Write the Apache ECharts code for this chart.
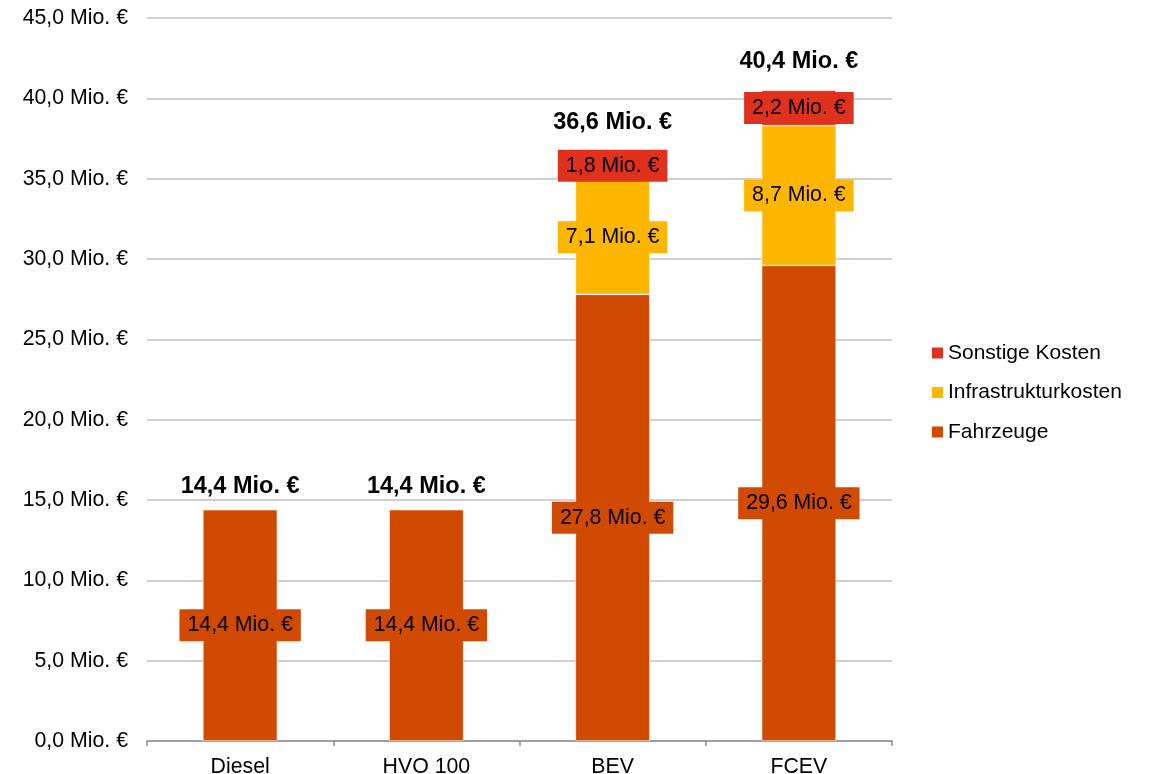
<!DOCTYPE html>
<html>
<head>
<meta charset="utf-8">
<script src="https://cdn.jsdelivr.net/npm/echarts@6/dist/echarts.min.js"></script>
<style>
  html, body { margin: 0; padding: 0; background: #ffffff; }
  #chart { width: 1150px; height: 774px; }
</style>
</head>
<body>
<div id="chart"></div>
<script>
// Kostenvergleich der Antriebsarten (in Mio. €)
const categories = ['Diesel', 'HVO 100', 'BEV', 'FCEV'];
const fahrzeuge = [14.4, 14.4, 27.8, 29.6];
const infrastruktur = [null, null, 7.1, 8.7];
const sonstige = [null, null, 1.8, 2.2];
const gesamt = [14.4, 14.4, 36.6, 40.4];
const yTicks = { min: 0, max: 45, interval: 5 };

const FONT = '"Liberation Sans", Arial, sans-serif';
const colors = { fahrzeuge: '#D04A02', infra: '#FFB600', sonstige: '#E0301E' };

function fmt(v) {
  return v.toFixed(1).replace('.', ',') + ' Mio. €';
}

function segLabel(bg) {
  return {
    show: true,
    position: 'inside',
    formatter: p => (p.value == null ? '' : fmt(p.value)),
    color: '#000000',
    fontFamily: FONT,
    fontSize: 21.3,
    lineHeight: 24,
    backgroundColor: bg,
    padding: [4, 8]
  };
}

function barSeries(name, data, color) {
  return {
    name: name,
    type: 'bar',
    stack: 'kosten',
    barWidth: '40%',
    data: data,
    itemStyle: { color: color, borderColor: '#ffffff', borderWidth: 0.6 },
    label: segLabel(color),
    emphasis: { disabled: true }
  };
}

const chart = echarts.init(document.getElementById('chart'), null, { renderer: 'canvas' });

chart.setOption({
  animation: false,
  backgroundColor: '#ffffff',
  textStyle: { fontFamily: FONT },
  grid: { left: 147, right: 258, top: 18, bottom: 33, containLabel: false, outerBoundsMode: 'none' },
  legend: {
    orient: 'vertical',
    left: 932,
    top: 342,
    padding: 0,
    itemWidth: 11,
    itemHeight: 11,
    itemGap: 17.5,
    icon: 'rect',
    itemStyle: { borderWidth: 0 },
    data: ['Sonstige Kosten', 'Infrastrukturkosten', 'Fahrzeuge'],
    textStyle: { fontFamily: FONT, fontSize: 21, lineHeight: 22, color: '#000000' }
  },
  xAxis: {
    type: 'category',
    data: categories,
    axisLine: { show: true, lineStyle: { color: '#8c8c8c', width: 1.5 } },
    axisTick: { show: true, length: 5, lineStyle: { color: '#8c8c8c', width: 1.5 } },
    axisLabel: { color: '#000000', fontFamily: FONT, fontSize: 21.3, margin: 16 }
  },
  yAxis: {
    type: 'value',
    min: yTicks.min,
    max: yTicks.max,
    interval: yTicks.interval,
    axisLine: { show: false },
    axisTick: { show: false },
    splitLine: { lineStyle: { color: '#c0c0c0', width: 1.5 } },
    axisLabel: {
      color: '#000000',
      fontFamily: FONT,
      fontSize: 21.3,
      margin: 19,
      formatter: v => fmt(v)
    }
  },
  series: [
    barSeries('Fahrzeuge', fahrzeuge, colors.fahrzeuge),
    barSeries('Infrastrukturkosten', infrastruktur, colors.infra),
    barSeries('Sonstige Kosten', sonstige, colors.sonstige),
    {
      // Gesamtsumme als fette Beschriftung über jedem Stapel
      name: 'Gesamt',
      type: 'scatter',
      silent: true,
      symbolSize: 1,
      itemStyle: { color: 'rgba(0,0,0,0)', opacity: 1 },
      data: gesamt.map((v, i) => ({
        value: [i, v],
        label: { distance: i < 2 ? 11 : 18 }
      })),
      label: {
        show: true,
        position: 'top',
        formatter: p => fmt(p.value[1]),
        color: '#000000',
        fontFamily: FONT,
        fontSize: 23.5,
        fontWeight: 'bold',
        lineHeight: 24
      },
      z: 5
    }
  ]
});
</script>
</body>
</html>
